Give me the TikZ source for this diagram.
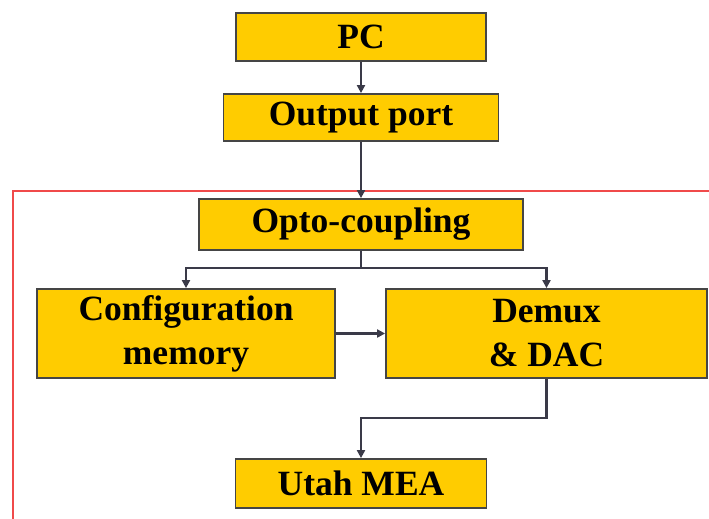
\documentclass[tikz,border=0pt]{standalone}
\usepackage{fontspec}
\setmainfont{Liberation Serif}
\usetikzlibrary{arrows.meta}
\definecolor{boxfill}{HTML}{FFCC00}
\definecolor{boxline}{HTML}{454545}
\definecolor{arrowcol}{HTML}{3A3A48}
\definecolor{framered}{HTML}{F04A4A}
\tikzset{
  blockbox/.style={draw=boxline, line width=1.8pt, fill=boxfill, inner sep=0pt, align=center,
    font=\fontsize{35.5}{44}\selectfont\bfseries},
  conn/.style={draw=arrowcol, line width=2.2pt, -{Triangle[length=8pt,width=8pt]}},
  plain/.style={draw=arrowcol, line width=2.2pt},
}
\begin{document}
\begin{tikzpicture}[x=1pt,y=-1pt]
\useasboundingbox (0,0) rectangle (709,519);
\draw[framered, line width=1.4pt] (709,191) -- (13,191) -- (13,519);
\node[blockbox, minimum width=250pt, minimum height=48pt] (pc) at (361,37) {PC};
\node[blockbox, minimum width=275pt, minimum height=47pt] (out) at (361,117.5) {Output port};
\node[blockbox, minimum width=324pt, minimum height=51pt] (opto) at (361,224.5) {Opto-coupling};
\node[blockbox, minimum width=298pt, minimum height=89pt] (cfg) at (186,333.5) {Configuration\\memory};
\node[blockbox, minimum width=321pt, minimum height=89pt] (dac) at (546.5,333.5) {Demux\\\& DAC};
\node[blockbox, minimum width=251pt, minimum height=49pt] (mea) at (361,483.5) {Utah MEA};
\coordinate (split) at (361,268);
\coordinate (turn) at (361,418);
\draw[conn] (pc) -- (out);
\draw[conn] (out) -- (opto);
\draw[plain] (opto) -- (split);
\draw[conn] (split) -| (cfg.north);
\draw[conn] (split) -| (dac.north);
\draw[conn] (cfg) -- (dac);
\draw[conn] (dac.south) |- (turn) -- (mea);
\end{tikzpicture}
\end{document}
